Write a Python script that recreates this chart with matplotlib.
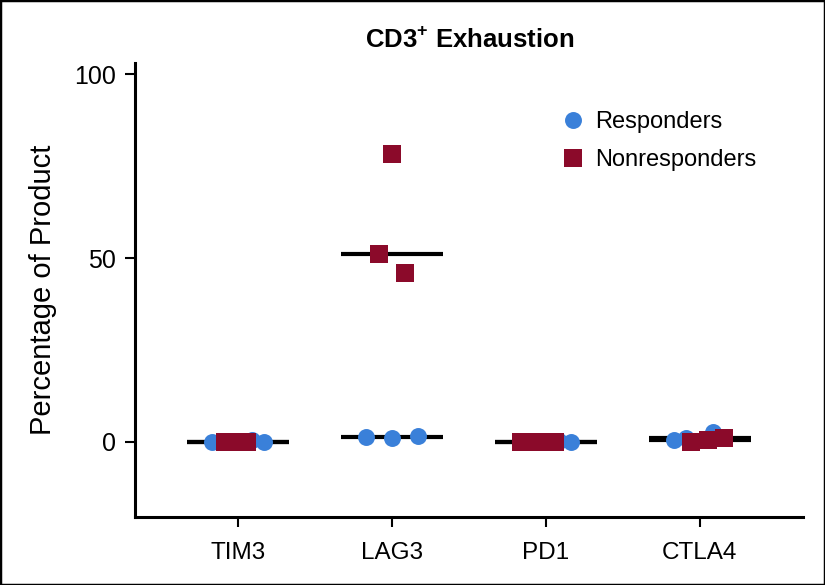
import numpy as np
import matplotlib
matplotlib.use("Agg")
import matplotlib.pyplot as plt
from matplotlib import font_manager
from matplotlib.patches import Rectangle
from matplotlib.lines import Line2D

# ---- data ----
categories = ["TIM3", "LAG3", "PD1", "CTLA4"]
resp_values = [[0.1, 0.4, 0.0], [1.4, 1.1, 1.6], [0.0, 0.3, 0.0], [0.4, 1.1, 2.8]]
resp_jitter = [[-0.17, 0.09, 0.17], [-0.17, 0.0, 0.17], [-0.02, 0.085, 0.16], [-0.17, -0.09, 0.085]]
nonresp_values = [[0.1, 0.0, 0.1], [51.1, 78.3, 45.9], [0.0, 0.0, 0.0], [-0.1, 0.5, 1.0]]
nonresp_jitter = [[-0.085, -0.013, 0.06], [-0.085, 0.0, 0.085], [-0.163, -0.052, 0.059], [-0.06, 0.05, 0.16]]
yticks = [0, 50, 100]
title = "CD3$^{\\mathbf{+}}$ Exhaustion"
ylabel = "Percentage of Product"
legend_labels = ["Responders", "Nonresponders"]

# ---- fonts ----
avail = {f.name for f in font_manager.fontManager.ttflist}
narrow = "Liberation Sans Narrow" if "Liberation Sans Narrow" in avail else "Liberation Sans"
regular = "Liberation Sans"
plt.rcParams["font.family"] = [regular, "DejaVu Sans"]
plt.rcParams["mathtext.fontset"] = "custom"
plt.rcParams["mathtext.rm"] = narrow
plt.rcParams["mathtext.bf"] = narrow + ":bold"

BLUE = "#3a80d9"
RED = "#8b0a2a"

fig = plt.figure(figsize=(8.25, 5.85), dpi=100)
ax = fig.add_axes([0.1636, 0.1162, 0.8097, 0.7761])

x = np.arange(len(categories))
half = 0.33
for i in x:
    rm = np.median(resp_values[i])
    nm = np.median(nonresp_values[i])
    ax.hlines([rm, nm], i - half, i + half, colors="black", lw=3.0, zorder=1)
    ax.plot(i + np.array(resp_jitter[i]), resp_values[i], "o", color=BLUE, ms=12.2, mew=0, zorder=2)
    ax.plot(i + np.array(nonresp_jitter[i]), nonresp_values[i], "s", color=RED, ms=12.6, mew=0, zorder=3)

ax.set_xlim(-0.67, 3.67)
ax.set_ylim(-20.4, 103)
ax.set_xticks(x)
ax.set_xticklabels(categories, family=[narrow, "DejaVu Sans"], fontsize=17.5)
ax.set_yticks(yticks)
ax.set_yticklabels([str(v) for v in yticks], fontsize=18)
ax.tick_params(axis="both", direction="out", length=7, width=1.5, color="black")
ax.tick_params(axis="x", pad=11)
ax.tick_params(axis="y", pad=7)
for s in ["top", "right"]:
    ax.spines[s].set_visible(False)
for s in ["left", "bottom"]:
    ax.spines[s].set_linewidth(2.2)

ax.set_ylabel(ylabel, fontsize=21, labelpad=12)
fig.text(0.5697, 0.932, title, ha="center", va="center", fontsize=18.5, fontweight="bold",
         family=[narrow, "DejaVu Sans"])

handles = [
    Line2D([], [], marker="o", ls="none", color=BLUE, ms=12.2, mew=0),
    Line2D([], [], marker="s", ls="none", color=RED, ms=12.6, mew=0),
]
ax.legend(handles, legend_labels, loc="upper left", bbox_to_anchor=(0.638, 0.894), frameon=False,
          fontsize=17, handlelength=1.0, handletextpad=0.45, labelspacing=0.68, borderpad=0, borderaxespad=0)

fig.patches.append(Rectangle((0, 0), 1, 1, transform=fig.transFigure, fill=False, lw=2.5, ec="black"))

fig.savefig("out.png", dpi=100)
